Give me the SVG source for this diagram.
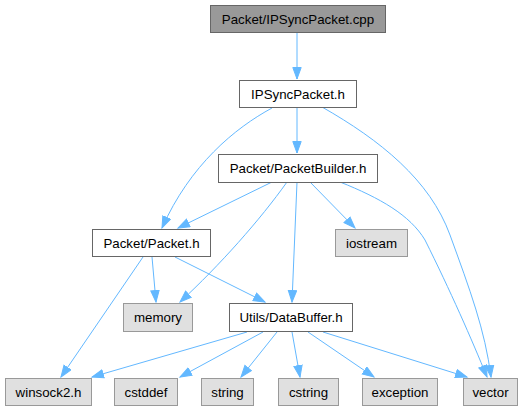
<svg xmlns="http://www.w3.org/2000/svg" width="528" height="411" viewBox="0 0 528 411">
<style>
.n rect{fill:#ffffff;stroke:#666666;stroke-width:1}
.s rect{fill:#e0e0e0;stroke:#999999;stroke-width:1}
.r rect{fill:#999999;stroke:#666666;stroke-width:1}
text{font-family:"Liberation Sans",Arial,sans-serif;font-size:13.3px;fill:#000000;text-anchor:middle}
#edges path{fill:none;stroke:#63b8ff;stroke-width:1;marker-end:url(#ah)}
</style>
<defs>
<marker id="ah" markerUnits="userSpaceOnUse" markerWidth="14" markerHeight="11" refX="12" refY="5" orient="auto" viewBox="0 0 14 11">
<path d="M0.5,0.8 L12,5 L0.5,9.2 z" fill="#63b8ff" stroke="#63b8ff" stroke-width="1"/>
</marker>
</defs>
<rect width="528" height="411" fill="#ffffff"/>
<g id="edges">
<path d="M297,32 L297,79"/>
<path d="M272,108 C235,128 190,165 162,228"/>
<path d="M297,107 L297,153"/>
<path d="M322,107 C380,140 430,180 450,235 C470,290 485,330 491,377"/>
<path d="M272,182 L178,228"/>
<path d="M287,182 C260,220 220,265 180,302"/>
<path d="M297,182 L292,302"/>
<path d="M310,182 L355,228"/>
<path d="M340,182 C380,198 410,215 425,240 C450,290 472,340 487,377"/>
<path d="M152,257 L156,302"/>
<path d="M143,257 L61,377"/>
<path d="M175,257 L265,302"/>
<path d="M247,332 L92,377"/>
<path d="M263,332 L180,377"/>
<path d="M277,332 L241,377"/>
<path d="M292,332 L300,377"/>
<path d="M308,332 L374,377"/>
<path d="M323,332 L467,377"/>
</g>
<g id="n_cpp" class="r"><rect x="210.5" y="5.5" width="175" height="27"/><text x="298" y="23.5">Packet/IPSyncPacket.cpp</text></g>
<g id="n_ipsync" class="n"><rect x="239.5" y="80.5" width="117" height="27"/><text x="298" y="98.5">IPSyncPacket.h</text></g>
<g id="n_builder" class="n"><rect x="218.5" y="154.5" width="159" height="28"/><text x="298" y="173">Packet/PacketBuilder.h</text></g>
<g id="n_packet" class="n"><rect x="92.5" y="229.5" width="118" height="27"/><text x="151.5" y="247.5">Packet/Packet.h</text></g>
<g id="n_iostream" class="s"><rect x="335.5" y="229.5" width="72" height="27"/><text x="371.5" y="247.5">iostream</text></g>
<g id="n_memory" class="s"><rect x="123.5" y="303.5" width="69" height="28"/><text x="158" y="322">memory</text></g>
<g id="n_databuffer" class="n"><rect x="229.5" y="303.5" width="123" height="28"/><text x="291" y="322">Utils/DataBuffer.h</text></g>
<g id="n_winsock" class="s"><rect x="5.5" y="378.5" width="86" height="27"/><text x="48.5" y="396.5">winsock2.h</text></g>
<g id="n_cstddef" class="s"><rect x="114.5" y="378.5" width="63" height="27"/><text x="146" y="396.5">cstddef</text></g>
<g id="n_string" class="s"><rect x="201.5" y="378.5" width="52" height="27"/><text x="227.5" y="396.5">string</text></g>
<g id="n_cstring" class="s"><rect x="278.5" y="378.5" width="60" height="27"/><text x="308.5" y="396.5">cstring</text></g>
<g id="n_exception" class="s"><rect x="362.5" y="378.5" width="75" height="27"/><text x="400" y="396.5">exception</text></g>
<g id="n_vector" class="s"><rect x="463.5" y="378.5" width="54" height="27"/><text x="490.5" y="396.5">vector</text></g>
</svg>
